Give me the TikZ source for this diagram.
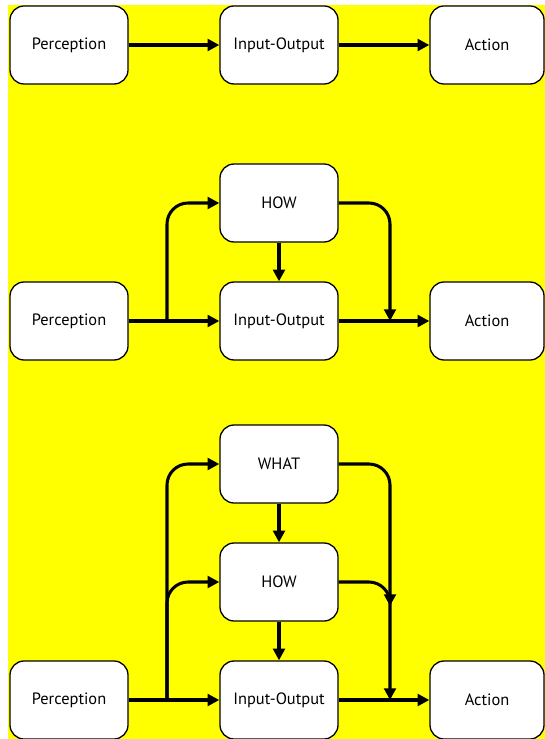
\documentclass[tikz,border=0pt]{standalone}
\usepackage{fontspec}
\setmainfont{PT Sans}
\definecolor{bgyellow}{RGB}{255,255,0}
\usetikzlibrary{arrows.meta}

\tikzset{
  box/.style={draw=black, line width=1.1pt, fill=white, rounded corners=12pt,
    minimum width=3.54cm, minimum height=2.34cm, inner sep=0pt, font=\fontsize{14}{16}\selectfont},
  endbox/.style={box, minimum width=3.42cm},
  arr/.style={line width=2.6pt, -{Triangle[length=10pt,width=10pt]}},
  curvearr/.style={arr, rounded corners=18pt}
}

\begin{document}
\begin{tikzpicture}[x=0.03cm, y=-0.03cm]
  % Background
  \useasboundingbox (0,0) rectangle (545,739);
  \fill[bgyellow] (8,5) rectangle (545,739);

  % Row 1
  \node[box] (perc1) at (69,45) {Perception};
  \node[box] (io1) at (279,45) {Input-Output};
  \node[endbox] (act1) at (487,45) {Action};
  \draw[arr] (perc1) -- (io1);
  \draw[arr] (io1) -- (act1);

  % Row 2
  \node[box] (how2) at (279,203) {HOW};
  \node[box] (perc2) at (69,321) {Perception};
  \node[box] (io2) at (279,321) {Input-Output};
  \node[endbox] (act2) at (487,321) {Action};
  \coordinate (split2) at (167,321);
  \coordinate (join2) at (390,321);
  \draw[arr] (perc2) -- (io2);
  \draw[arr] (io2) -- (act2);
  \draw[arr] (how2) -- (io2);
  \draw[curvearr] (split2) |- (how2);
  \draw[curvearr] (how2) -| (join2);

  % Row 3
  \node[box] (what3) at (279,464) {WHAT};
  \node[box] (how3) at (279,582) {HOW};
  \node[box] (perc3) at (69,700) {Perception};
  \node[box] (io3) at (279,700) {Input-Output};
  \node[endbox] (act3) at (487,700) {Action};
  \coordinate (split3) at (167,700);
  \coordinate (join3) at (390,700);
  \coordinate (merge3) at (390,606);
  \draw[arr] (perc3) -- (io3);
  \draw[arr] (io3) -- (act3);
  \draw[arr] (what3) -- (how3);
  \draw[arr] (how3) -- (io3);
  \draw[curvearr] (split3) |- (what3);
  \draw[curvearr] (split3) |- (how3);
  \draw[curvearr] (what3) -| (join3);
  \draw[curvearr] (how3) -| (merge3);
\end{tikzpicture}
\end{document}
